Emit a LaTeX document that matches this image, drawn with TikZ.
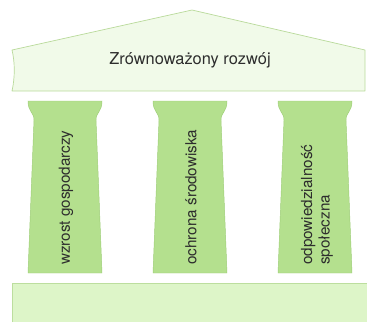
\documentclass[tikz,border=0pt]{standalone}
\usepackage{fontspec}
\setmainfont{TeX Gyre Heros}
\usepackage{xcolor}
\definecolor{roofgreen}{RGB}{241,250,233}
\definecolor{roofline}{RGB}{185,218,155}
\definecolor{pillargreen}{RGB}{180,224,142}
\definecolor{pillarline}{RGB}{158,206,120}
\definecolor{basegreen}{RGB}{221,245,200}
\definecolor{baseedge}{RGB}{188,222,158}
\definecolor{textgray}{RGB}{45,45,45}

\begin{document}
\begin{tikzpicture}[x=0.03cm, y=-0.03cm,
        roof/.style={draw=roofline, fill=roofgreen, line width=0.6pt, line join=round},
        pillar/.style={draw=pillarline, fill=pillargreen, line width=0.4pt},
        base/.style={fill=basegreen},
        title/.style={text=textgray, font=\fontsize{14}{16}\selectfont},
        label/.style={text=textgray, rotate=90, anchor=west, align=left,
                      font=\fontsize{13}{15}\selectfont, inner sep=0pt}]
      \useasboundingbox (0,0) rectangle (367,322);
      % roof
      \draw[roof] (12,91) .. controls (15,78) and (15,62) .. (12,50) -- (192,10)
                  -- (365,50) -- (365,91) -- cycle;
      \node[title] (goal) at (190,60) {Zrównoważony rozwój};
      % pillars
      \draw[pillar] (28,101) .. controls (28,112) and (34,112) .. (34,120) -- (28,273)
                    -- (102,273) -- (96,120) .. controls (96,112) and (102,112) .. (102,101) -- cycle;
      \draw[pillar] (153,101) .. controls (153,112) and (159,112) .. (159,120) -- (153,273)
                    -- (227,273) -- (221,120) .. controls (221,112) and (227,112) .. (227,101) -- cycle;
      \draw[pillar] (278,101) .. controls (278,112) and (284,112) .. (284,120) -- (278,273)
                    -- (352,273) -- (346,120) .. controls (346,112) and (352,112) .. (352,101) -- cycle;
      \node[label] (econ)   at (66,265)  {wzrost gospodarczy};
      \node[label] (nature) at (191,265) {ochrona środowiska};
      \node[label] (social) at (317,265) {odpowiedzialność\\społeczna};
      % base
      \fill[base] (12,283) rectangle (367,322);
      \draw[draw=baseedge, line width=0.6pt] (12,322) -- (12,283) -- (367,283);
    \end{tikzpicture}
\end{document}
